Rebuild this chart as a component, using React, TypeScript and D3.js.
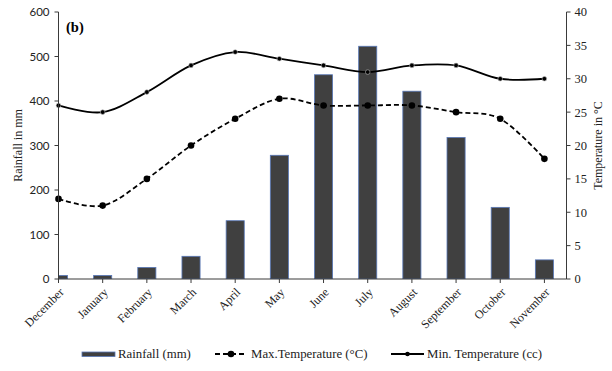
import React from "react";
import * as d3 from "d3";

const months = [
  "December", "January", "February", "March", "April", "May",
  "June", "July", "August", "September", "October", "November",
];
const rainfall = [8, 8, 26, 51, 131, 278, 459, 523, 422, 318, 161, 43];
const maxTemp = [12, 11, 15, 20, 24, 27, 26, 26, 26, 25, 24, 18];
const minTemp = [26, 25, 28, 32, 34, 33, 32, 31, 32, 32, 30, 30];
const rainTicks = [0, 100, 200, 300, 400, 500, 600];
const tempTicks = [0, 5, 10, 15, 20, 25, 30, 35, 40];

const W = 612;
const H = 371;
const plotLeft = 58.5;
const plotRight = 566.5;
const plotTop = 12;
const plotBottom = 279;

const serif = "'Liberation Serif', 'Times New Roman', serif";
const sans = "Lato, 'Open Sans', sans-serif";

export default function App() {
  // Categories sit on a band grid whose first band starts half a step left of the axis
  const step = (plotRight - plotLeft) / (months.length - 0.5);
  const x = d3
    .scaleBand<string>()
    .domain(months)
    .range([plotLeft - step / 2, plotRight])
    .paddingInner(0)
    .paddingOuter(0);
  const cx = (m: string) => (x(m) as number) + x.bandwidth() / 2;
  const barW = x.bandwidth() * 0.41;

  const yRain = d3.scaleLinear().domain([0, 600]).range([plotBottom, plotTop]);
  const yTemp = d3.scaleLinear().domain([0, 40]).range([plotBottom, plotTop]);

  const line = d3
    .line<number>()
    .x((_, i) => cx(months[i]))
    .y((d) => yTemp(d))
    .curve(d3.curveCatmullRom.alpha(0));

  const axisColor = "#3a3a3a";

  return (
    <svg width={W} height={H} style={{ position: "absolute", left: 0, top: 0, background: "#fff" }}>
      <defs>
        <clipPath id="plotClip">
          <rect x={plotLeft} y={0} width={plotRight - plotLeft} height={plotBottom} />
        </clipPath>
      </defs>

      {/* rainfall bars */}
      <g clipPath="url(#plotClip)">
        {rainfall.map((v, i) => (
          <rect
            key={months[i]}
            x={cx(months[i]) - barW / 2}
            y={yRain(v)}
            width={barW}
            height={plotBottom - yRain(v)}
            fill="#404040"
            stroke="#5878b8"
            strokeWidth={0.8}
          />
        ))}
      </g>

      {/* temperature lines */}
      <path d={line(minTemp) || ""} fill="none" stroke="#000" strokeWidth={1.8} />
      <path
        d={line(maxTemp) || ""}
        fill="none"
        stroke="#000"
        strokeWidth={1.8}
        strokeDasharray="5,3"
      />
      {minTemp.map((v, i) => (
        <circle key={"mn" + i} cx={cx(months[i])} cy={yTemp(v)} r={2.3} fill="#000" stroke="#bbb" strokeWidth={0.6} />
      ))}
      {maxTemp.map((v, i) => (
        <circle key={"mx" + i} cx={cx(months[i])} cy={yTemp(v)} r={3.3} fill="#000" />
      ))}

      {/* left axis */}
      <line x1={plotLeft} x2={plotLeft} y1={plotTop} y2={plotBottom} stroke={axisColor} strokeWidth={1} />
      {rainTicks.map((t) => (
        <g key={"r" + t}>
          <line x1={plotLeft - 4} x2={plotLeft} y1={yRain(t)} y2={yRain(t)} stroke={axisColor} />
          <text
            x={plotLeft - 9}
            y={yRain(t)}
            dy="0.35em"
            textAnchor="end"
            fontFamily={sans}
            fontSize={11.5}
            fill="#222"
          >
            {t}
          </text>
        </g>
      ))}
      <text
        transform={`translate(18, ${(plotTop + plotBottom) / 2}) rotate(-90)`}
        textAnchor="middle"
        dy="0.35em"
        fontFamily={serif}
        fontSize={12}
        fill="#222"
      >
        Rainfall in mm
      </text>

      {/* right axis */}
      <line x1={plotRight} x2={plotRight} y1={plotTop} y2={plotBottom} stroke={axisColor} strokeWidth={1} />
      {tempTicks.map((t) => (
        <g key={"t" + t}>
          <line x1={plotRight} x2={plotRight + 4} y1={yTemp(t)} y2={yTemp(t)} stroke={axisColor} />
          <text
            x={plotRight + 8}
            y={yTemp(t)}
            dy="0.35em"
            textAnchor="start"
            fontFamily={serif}
            fontSize={12.5}
            fill="#222"
          >
            {t}
          </text>
        </g>
      ))}
      <text
        transform={`translate(598, ${(plotTop + plotBottom) / 2}) rotate(-90)`}
        textAnchor="middle"
        dy="0.35em"
        fontFamily={serif}
        fontSize={12}
        fill="#222"
      >
        Temperature in °C
      </text>

      {/* category axis */}
      <line x1={plotLeft} x2={plotRight} y1={plotBottom} y2={plotBottom} stroke={axisColor} strokeWidth={1} />
      {months.map((m) => (
        <g key={m}>
          <line x1={cx(m)} x2={cx(m)} y1={plotBottom} y2={plotBottom + 4} stroke={axisColor} />
          <text
            transform={`translate(${cx(m) + 3}, ${plotBottom + 11}) rotate(-45)`}
            textAnchor="end"
            dy="0.35em"
            fontFamily={serif}
            fontSize={12}
            fill="#222"
          >
            {m}
          </text>
        </g>
      ))}

      {/* panel tag */}
      <text x={66} y={32} fontFamily={serif} fontSize={14.5} fontWeight="bold" fill="#000">
        (b)
      </text>

      {/* legend */}
      <g fontFamily={serif} fontSize={12.8} fill="#222">
        <rect x={82} y={352} width={33} height={4.5} fill="#404040" stroke="#5878b8" strokeWidth={0.8} />
        <text x={118} y={354} dy="0.35em">Rainfall (mm)</text>

        <line x1={215} x2={247} y1={354} y2={354} stroke="#000" strokeWidth={1.8} strokeDasharray="5,3" />
        <circle cx={231} cy={354} r={3.3} fill="#000" />
        <text x={251} y={354} dy="0.35em">Max.Temperature (°C)</text>

        <line x1={391} x2={424} y1={354} y2={354} stroke="#000" strokeWidth={1.8} />
        <circle cx={407.5} cy={354} r={2.3} fill="#000" />
        <text x={427} y={354} dy="0.35em">Min. Temperature (cc)</text>
      </g>
    </svg>
  );
}
